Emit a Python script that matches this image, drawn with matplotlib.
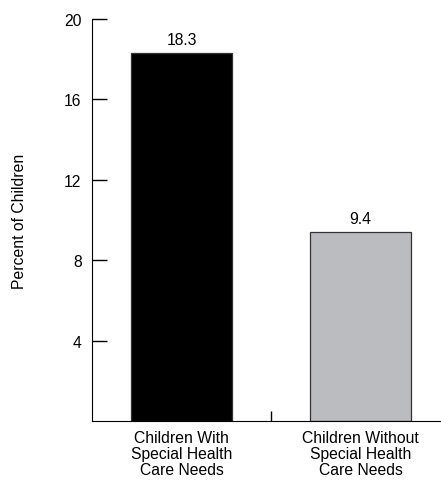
import matplotlib
matplotlib.use("Agg")
import matplotlib.pyplot as plt

plt.rcParams["font.family"] = ["Liberation Sans", "DejaVu Sans"]

categories = ["Children With\nSpecial Health\nCare Needs",
              "Children Without\nSpecial Health\nCare Needs"]
percents = [18.3, 9.4]
bar_colors = ["#000000", "#bbbcc0"]
yticks = [4, 8, 12, 16, 20]

FS = 11.3

fig = plt.figure(figsize=(4.41, 4.81), dpi=100)
ax = fig.add_axes([92 / 441, 59 / 481, 358 / 441, 402 / 481])

x = list(range(len(categories)))
bars = ax.bar(x, percents, width=0.565, color=bar_colors,
              edgecolor="#333333", linewidth=0.9)
for b, v in zip(bars, percents):
    ax.text(b.get_x() + b.get_width() / 2, v + 0.3, f"{v:.1f}",
            ha="center", va="bottom", fontsize=FS)

ax.set_xlim(-0.5, 1.5)
ax.set_ylim(0, 20)
ax.set_yticks(yticks)
ax.tick_params(axis="y", direction="in", length=10.5, width=1, pad=7.5,
               labelsize=FS)

# category labels sit under the bars, only a divider tick between them
ax.set_xticks([0.5])
ax.set_xticklabels([""])
ax.tick_params(axis="x", direction="in", length=7.5, width=1)
for xi, lab in zip(x, categories):
    ax.text(xi, -0.45, lab, ha="center", va="top", fontsize=FS,
            linespacing=1.08, transform=ax.transData)

ax.spines["top"].set_visible(False)
ax.spines["right"].set_visible(False)
ax.set_ylabel("Percent of Children", fontsize=FS, labelpad=27)

fig.savefig("out.png", dpi=100)
